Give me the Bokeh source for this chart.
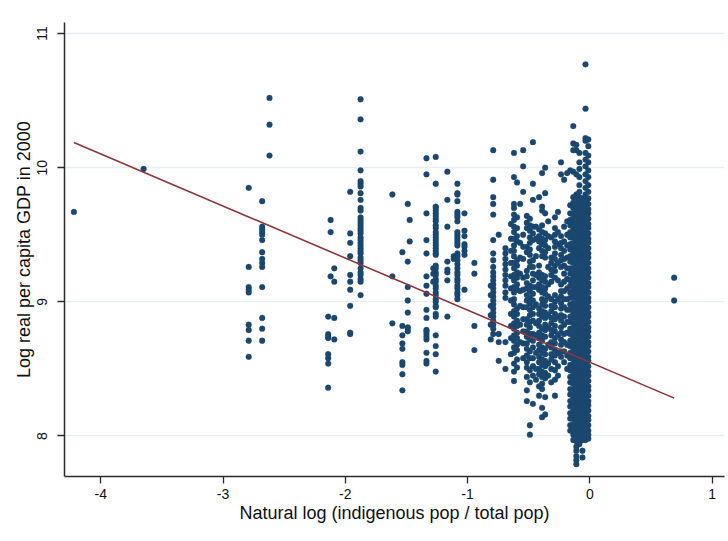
from bokeh.plotting import figure
from bokeh.models import Range1d, FixedTicker, ColumnDataSource
from bokeh.embed import file_html
from bokeh.resources import INLINE

# ---- data: x position of each vertical group of observations and the y values read in it
col_x = [-4.22, -3.65, 0.69,
         -2.79, -2.68, -2.62, -2.12, -2.14, -2.09, -1.96, -1.875,
         -1.615, -1.533, -1.489, -1.473, -1.336, -1.26, -1.28, -1.165, -1.113, -1.083, -1.025, -0.944,
         -0.79, -0.81, -0.745, -0.69,
         -0.645, -0.62, -0.595, -0.57,
         -0.545, -0.515, -0.49, -0.465,
         -0.44, -0.415, -0.39, -0.365, -0.34, -0.315,
         -0.285, -0.26, -0.235, -0.21, -0.185,
         -0.16, -0.135, -0.11, -0.085, -0.06, -0.035, -0.012]

col_y = [
    [9.67], [9.99], [9.18, 9.01],
    [9.85, 9.26, 9.11, 9.09, 9.07, 8.83, 8.79, 8.71, 8.59],
    [9.75, 9.56, 9.54, 9.52, 9.50, 9.46, 9.37, 9.32, 9.29, 9.26, 9.11, 8.88, 8.80, 8.71],
    [10.52, 10.32, 10.09],
    [9.61, 9.52, 9.19],
    [8.89, 8.76, 8.74, 8.73, 8.61, 8.58, 8.54, 8.36],
    [9.25, 9.15, 8.88, 8.72],
    [9.82, 9.51, 9.44, 9.34, 9.20, 9.15, 9.09, 8.97, 8.77, 8.76],
    [10.51, 10.36, 10.12, 9.98, 9.90, 9.88, 9.86, 9.81, 9.76, 9.70, 9.68, 9.63, 9.61, 9.59, 9.57,
     9.55, 9.53, 9.51, 9.48, 9.46, 9.44, 9.42, 9.40, 9.38, 9.36, 9.33, 9.31, 9.29, 9.25, 9.22,
     9.20, 9.17, 9.15, 9.05],
    [9.80, 9.19, 8.84],
    [9.37, 8.82, 8.75, 8.69, 8.65, 8.55, 8.53, 8.46, 8.34],
    [9.73, 9.30, 9.11, 9.01, 8.92, 8.81, 8.80, 8.78],
    [9.61, 9.45],
    [10.07, 9.95, 9.66, 9.46, 9.36, 9.19, 9.12, 9.06, 8.94, 8.88, 8.79, 8.78, 8.76, 8.74, 8.72, 8.62, 8.56, 8.54],
    [10.08, 9.88, 9.71, 9.70, 9.68, 9.66, 9.64, 9.62, 9.60, 9.57, 9.55, 9.52, 9.50, 9.48, 9.46,
     9.44, 9.42, 9.40, 9.38, 9.36, 9.35, 9.27, 9.25, 9.22, 9.20, 9.17, 9.15, 9.12, 9.10, 9.07,
     9.05, 9.02, 9.00, 8.97, 8.96, 8.91, 8.89, 8.75, 8.67, 8.61, 8.48],
    [9.25, 9.21, 9.15],
    [9.97, 9.76, 9.56, 9.30, 9.24, 9.22, 9.16, 8.89],
    [9.34, 9.32],
    [9.88, 9.81, 9.80, 9.75, 9.67, 9.65, 9.63, 9.60, 9.52, 9.50, 9.48, 9.46, 9.44, 9.42, 9.36,
     9.34, 9.31, 9.28, 9.25, 9.22, 9.20, 9.17, 9.15, 9.12, 9.10, 9.07, 9.05, 9.02],
    [9.66, 9.53, 9.49, 9.43, 9.41, 9.38, 9.35, 9.09],
    [9.29, 9.21, 8.82, 8.64],
    [10.13, 9.91, 9.78, 9.73, 9.65, 9.46, 9.36, 9.31, 9.26, 9.22, 9.19, 9.16, 9.13, 9.10, 9.07,
     9.04, 9.01, 8.98, 8.95, 8.92, 8.89, 8.86, 8.83, 8.80, 8.76],
    [9.12, 9.05, 8.97, 8.90, 8.83, 8.72],
    [9.50, 8.76, 8.70, 8.56],
    [9.40, 9.36, 9.32, 9.28, 9.24, 9.20, 9.16, 9.12, 9.07, 9.03, 8.70, 8.50],
    [9.58, 9.47, 9.38, 9.29, 9.19, 9.10, 9.01, 8.91, 8.82, 8.73, 8.61],
    [10.11, 9.93, 9.73, 9.70, 9.65, 9.61, 9.56, 9.52, 9.47, 9.42, 9.38, 9.34, 9.29, 9.25, 9.20,
     9.16, 9.11, 9.07, 9.02, 8.98, 8.93, 8.89, 8.84, 8.80, 8.75, 8.71, 8.66, 8.62, 8.54, 8.48, 8.41],
    [9.89, 9.63, 9.55, 9.49, 9.45, 9.31, 9.27, 9.22, 9.18, 9.13, 9.09, 8.95, 8.91, 8.86, 8.82,
     8.77, 8.73, 8.68, 8.64, 8.57, 8.51],
    [9.73, 9.44, 9.33, 9.21, 9.08, 8.97, 8.83, 8.70],
    [10.13, 10.01, 9.82, 9.50, 9.41, 9.32, 9.18, 9.09, 8.96, 8.87, 8.78, 8.69, 8.58],
    [9.64, 9.59, 9.55, 9.41, 9.37, 9.23, 9.19, 9.14, 9.10, 9.05, 9.01, 8.96, 8.87, 8.83, 8.78,
     8.74, 8.69, 8.65, 8.60, 8.55, 8.51, 8.44, 8.34, 8.26],
    [9.62, 9.57, 9.53, 9.48, 9.44, 9.39, 9.35, 9.30, 9.26, 9.12, 9.08, 9.03, 8.99, 8.94, 8.90,
     8.85, 8.81, 8.76, 8.72, 8.63, 8.58, 8.49, 8.40, 8.08, 8.01],
    [10.19, 9.88, 9.76, 9.56, 9.51, 9.46, 9.31, 9.26, 9.21, 9.16, 9.11, 9.06, 9.01, 8.96, 8.91,
     8.86, 8.76, 8.71, 8.66, 8.58, 8.52, 8.45, 8.24],
    [9.56, 9.47, 9.34, 9.20, 9.11, 8.98, 8.84, 8.75, 8.62, 8.50, 8.42],
    [9.78, 9.54, 9.49, 9.45, 9.40, 9.27, 9.22, 9.18, 9.13, 9.09, 8.95, 8.91, 8.86, 8.82, 8.77,
     8.73, 8.68, 8.64, 8.59, 8.55, 8.50, 8.46, 8.37, 8.30],
    [9.96, 9.71, 9.68, 9.57, 9.52, 9.47, 9.43, 9.38, 9.34, 9.20, 9.16, 9.11, 9.07, 9.02, 8.98,
     8.93, 8.89, 8.80, 8.75, 8.71, 8.66, 8.62, 8.57, 8.53, 8.48, 8.44, 8.39, 8.35, 8.21, 8.14],
    [10.00, 9.81, 9.66, 9.51, 9.46, 9.42, 9.37, 9.33, 9.19, 9.15, 9.10, 9.06, 9.01, 8.97, 8.92,
     8.88, 8.83, 8.79, 8.74, 8.65, 8.61, 8.56, 8.52, 8.47, 8.43, 8.29, 8.16],
    [9.60, 9.49, 9.40, 9.26, 9.13, 9.04, 8.90, 8.81, 8.68, 8.54, 8.45],
    [9.48, 9.33, 9.29, 9.24, 9.20, 9.15, 9.02, 8.97, 8.93, 8.88, 8.84, 8.79, 8.75, 8.70, 8.66,
     8.61, 8.57, 8.50, 8.40],
    [9.63, 9.55, 9.50, 9.45, 9.41, 9.36, 9.32, 9.27, 9.23, 9.18, 9.05, 9.00, 8.96, 8.91, 8.87,
     8.82, 8.78, 8.73, 8.69, 8.64, 8.60, 8.55, 8.49, 8.42, 8.30],
    [9.67, 9.52, 9.43, 9.29, 9.16, 9.02, 8.89, 8.75, 8.62, 8.52, 8.45],
    [10.04, 9.95, 9.49, 9.44, 9.40, 9.35, 9.31, 9.26, 9.13, 9.08, 9.04, 8.99, 8.95, 8.90, 8.86,
     8.81, 8.77, 8.72, 8.68, 8.63, 8.59],
    [9.91, 9.56, 9.45, 9.38, 9.32, 9.27, 9.21, 9.15, 9.08, 9.02, 8.96, 8.89, 8.83, 8.76, 8.70, 8.63, 8.55],
    [9.96, 9.60, 9.50, 9.42, 9.33, 9.25, 9.17, 9.10, 9.02, 8.94, 8.85, 8.77, 8.68, 8.60, 8.50],
    [9.98, 9.72, 9.66, 9.61, 9.57, 9.52, 9.48, 9.43, 9.39, 9.34, 9.30, 9.25, 9.21, 9.16, 9.12,
     9.07, 9.03, 8.98, 8.94, 8.89, 8.85, 8.80, 8.76, 8.71, 8.67, 8.62, 8.58, 8.53, 8.49, 8.44,
     8.40, 8.35, 8.31, 8.26, 8.22, 8.17, 8.13, 8.08, 8.04],
    [10.31, 10.18, 10.13, 9.97, 9.78, 9.74, 9.70, 9.66, 9.63, 9.59, 9.55, 9.51, 9.48, 9.44, 9.40,
     9.36, 9.33, 9.29, 9.25, 9.21, 9.18, 9.14, 9.10, 9.06, 9.03, 8.99, 8.95, 8.91, 8.88, 8.84,
     8.80, 8.76, 8.73, 8.69, 8.65, 8.61, 8.58, 8.54, 8.50, 8.46, 8.43, 8.39, 8.35, 8.31, 8.28,
     8.24, 8.20, 8.16, 8.13, 8.09, 8.05, 8.01, 7.97],
    [10.17, 10.13, 9.95, 9.80, 9.76, 9.72, 9.69, 9.65, 9.61, 9.58, 9.54, 9.50, 9.47, 9.43, 9.39,
     9.36, 9.32, 9.28, 9.25, 9.21, 9.17, 9.14, 9.10, 9.06, 9.03, 8.99, 8.95, 8.92, 8.88, 8.84,
     8.81, 8.77, 8.73, 8.70, 8.66, 8.62, 8.59, 8.55, 8.51, 8.48, 8.44, 8.40, 8.37, 8.33, 8.29,
     8.26, 8.22, 8.18, 8.15, 8.11, 8.07, 8.04, 8.00, 7.96, 7.92, 7.89, 7.85, 7.82, 7.79],
    [10.11, 10.04, 9.99, 9.93, 9.87, 9.82, 9.78, 9.74, 9.70, 9.67, 9.63, 9.59, 9.56, 9.52, 9.48,
     9.45, 9.41, 9.37, 9.34, 9.30, 9.26, 9.23, 9.19, 9.15, 9.12, 9.08, 9.04, 9.01, 8.97, 8.93,
     8.90, 8.86, 8.82, 8.79, 8.75, 8.71, 8.68, 8.64, 8.60, 8.57, 8.53, 8.49, 8.46, 8.42, 8.38,
     8.35, 8.31, 8.27, 8.24, 8.20, 8.16, 8.13, 8.09, 8.05, 8.02, 7.98, 7.94],
    [9.77, 9.73, 9.69, 9.66, 9.62, 9.58, 9.55, 9.51, 9.47, 9.44, 9.40, 9.36, 9.33, 9.29, 9.25,
     9.22, 9.18, 9.14, 9.11, 9.07, 9.03, 9.00, 8.96, 8.92, 8.89, 8.85, 8.81, 8.78, 8.74, 8.70,
     8.67, 8.63, 8.59, 8.56, 8.52, 8.48, 8.45, 8.41, 8.37, 8.34, 8.30, 8.26, 8.23, 8.19, 8.15,
     8.12, 8.08, 8.04, 8.01, 7.97, 7.89, 7.84],
    [10.77, 10.44, 10.22, 10.20, 10.11, 10.06, 10.01, 9.95, 9.90, 9.85, 9.80, 9.76, 9.72, 9.69, 9.65,
     9.61, 9.58, 9.54, 9.50, 9.47, 9.43, 9.39, 9.36, 9.32, 9.28, 9.25, 9.21, 9.17, 9.14, 9.10,
     9.06, 9.03, 8.99, 8.95, 8.92, 8.88, 8.84, 8.81, 8.77, 8.73, 8.70, 8.66, 8.62, 8.59, 8.55,
     8.51, 8.48, 8.44, 8.40, 8.37, 8.33, 8.29, 8.26, 8.22, 8.18, 8.15, 8.11, 8.07, 8.04, 8.00, 7.97],
    [10.21, 10.16, 10.09, 10.04, 9.98, 9.93, 9.87, 9.82, 9.77, 9.73, 9.69, 9.66, 9.62, 9.58, 9.55,
     9.51, 9.47, 9.44, 9.40, 9.36, 9.33, 9.29, 9.25, 9.22, 9.18, 9.14, 9.11, 9.07, 9.03, 9.00,
     8.96, 8.92, 8.89, 8.85, 8.81, 8.78, 8.74, 8.70, 8.67, 8.63, 8.59, 8.56, 8.52, 8.48, 8.45,
     8.41, 8.37, 8.34, 8.30, 8.26, 8.23, 8.19, 8.15, 8.12, 8.08, 8.04, 8.01, 7.98],
]

# fitted linear regression line
fit_intercept = 8.55
fit_slope = -0.388

x_ticks = [-4, -3, -2, -1, 0, 1]
y_ticks = [8, 9, 10, 11]

x_title = "Natural log (indigenous pop / total pop)"
y_title = "Log real per capita GDP in 2000"

# ---- expand the groups
xs, ys = [], []
for cx, cy in zip(col_x, col_y):
    xs.extend([cx] * len(cy))
    ys.extend(cy)
src = ColumnDataSource(dict(x=xs, y=ys))

fit_x = [min(xs), max(xs)]
fit_y = [fit_intercept + fit_slope * v for v in fit_x]

FONT = "Liberation Sans"
NAVY = "#1a476f"
MAROON = "#90353b"

p = figure(width=728, height=541, output_backend="svg", toolbar_location=None,
           x_range=Range1d(-4.297, 1.102), y_range=Range1d(7.698, 11.082),
           min_border_left=64, min_border_right=4, min_border_top=22, min_border_bottom=65,
           background_fill_color="white", border_fill_color="white")
p.outline_line_color = None

p.scatter("x", "y", source=src, size=5.8, fill_color=NAVY, line_color=NAVY, line_width=0.3)
p.line(fit_x, fit_y, line_color=MAROON, line_width=1.6)

p.xgrid.visible = False
p.ygrid.grid_line_color = "#e6eef1"
p.ygrid.grid_line_width = 1.5
p.ygrid.ticker = FixedTicker(ticks=y_ticks)

for ax in (p.xaxis[0], p.yaxis[0]):
    ax.axis_line_color = "#2b2b2b"
    ax.axis_line_width = 1.5
    ax.major_tick_line_color = "#2b2b2b"
    ax.major_tick_line_width = 1.3
    ax.major_tick_out = 7
    ax.major_tick_in = 0
    ax.minor_tick_line_color = None
    ax.major_label_text_font = FONT
    ax.major_label_text_font_size = "14px"
    ax.major_label_text_color = "#111111"
    ax.axis_label_text_font = FONT
    ax.axis_label_text_font_size = "18px"
    ax.axis_label_text_font_style = "normal"
    ax.axis_label_text_color = "#111111"

p.xaxis.ticker = FixedTicker(ticks=x_ticks)
p.yaxis.ticker = FixedTicker(ticks=y_ticks)
p.xaxis.major_label_overrides = {t: str(t) for t in x_ticks}
p.yaxis.major_label_overrides = {t: str(t) for t in y_ticks}
p.xaxis.axis_label = x_title
p.yaxis.axis_label = y_title
p.xaxis.major_label_standoff = 5
p.xaxis.axis_label_standoff = 1
p.yaxis.major_label_orientation = "vertical"
p.yaxis.major_label_standoff = 10
p.yaxis.axis_label_standoff = 1

open("out.html", "w").write(file_html(p, INLINE))
